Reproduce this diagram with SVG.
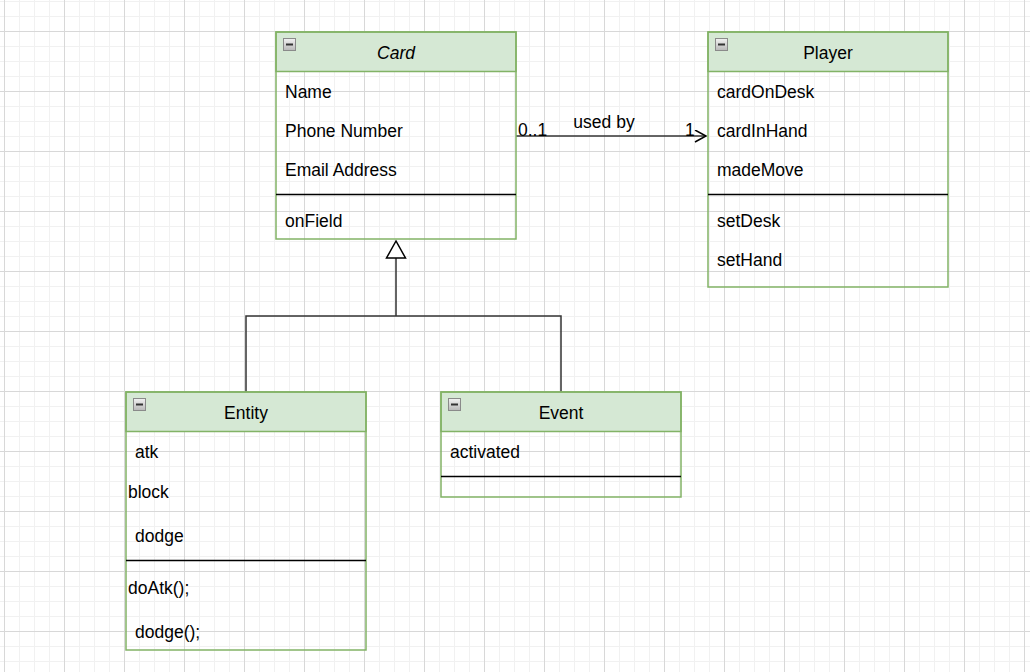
<svg xmlns="http://www.w3.org/2000/svg" width="1030" height="672" viewBox="0 0 1030 672">
<style>
.box{fill:none;stroke:#82b366;stroke-width:1.5}
.hdr{fill:#d5e8d4;stroke:#82b366;stroke-width:1.5}
.div{stroke:#000;stroke-width:1.5}
.t{font-family:"Liberation Sans",Arial,sans-serif;font-size:17.5px;fill:#000}
.c{text-anchor:middle}
.edge{fill:none;stroke:#333;stroke-width:1.5}
.ico{fill:url(#ig);stroke:#8a8a8a;stroke-width:1}
.mi{stroke:#333;stroke-width:2}
</style>
<defs>
<pattern id="grid" patternUnits="userSpaceOnUse" x="4" y="31" width="60" height="60">
<path d="M15.5 0V60M30.5 0V60M45.5 0V60M0 15.5H60M0 30.5H60M0 45.5H60" stroke="#f1f1f1" stroke-width="1"/>
<path d="M0.5 0V60M0 0.5H60" stroke="#d8d8d8" stroke-width="1"/>
</pattern>
<linearGradient id="ig" x1="0" y1="0" x2="0" y2="1">
<stop offset="0" stop-color="#f2f2f2"/>
<stop offset="1" stop-color="#b8b8b8"/>
</linearGradient>
<marker id="open" markerWidth="14" markerHeight="14" refX="12" refY="6" orient="auto" markerUnits="userSpaceOnUse">
<path d="M1 0L12 6L1 12" fill="none" stroke="#000" stroke-width="1.5"/>
</marker>
</defs>
<rect width="1030" height="672" fill="#fff"/>
<rect width="1030" height="672" fill="url(#grid)"/>

<g id="connectors">
<path class="edge" d="M516 136H706" stroke="#000" marker-end="url(#open)"/>
<text class="t" x="518" y="136">0..1</text>
<text class="t c" x="604" y="128">used by</text>
<text class="t" x="685" y="136">1</text>
<path class="edge" d="M246 392V316H561V392M396 316V258"/>
<path d="M396 241L386.5 258H405.5Z" fill="#fff" stroke="#000" stroke-width="1.5"/>
</g>

<g id="card">
<rect class="hdr" x="276" y="32" width="240" height="39.5"/>
<rect class="box" x="276" y="32" width="240" height="207"/>
<rect class="ico" x="283.5" y="38.5" width="12" height="12"/>
<path class="mi" d="M286 44.5H293"/>
<text class="t c" x="396" y="58.5" font-style="italic">Card</text>
<text class="t" x="285" y="97.5">Name</text>
<text class="t" x="285" y="136.5">Phone Number</text>
<text class="t" x="285" y="175.5">Email Address</text>
<path class="div" d="M276 194.5H516"/>
<text class="t" x="285" y="226.5">onField</text>
</g>

<g id="player">
<rect class="hdr" x="708" y="32" width="240" height="39.5"/>
<rect class="box" x="708" y="32" width="240" height="255"/>
<rect class="ico" x="715.5" y="38.5" width="12" height="12"/>
<path class="mi" d="M718 44.5H725"/>
<text class="t c" x="828" y="58.5">Player</text>
<text class="t" x="717" y="97.5">cardOnDesk</text>
<text class="t" x="717" y="136.5">cardInHand</text>
<text class="t" x="717" y="175.5">madeMove</text>
<path class="div" d="M708 194.5H948"/>
<text class="t" x="717" y="226.5">setDesk</text>
<text class="t" x="717" y="265.5">setHand</text>
</g>

<g id="entity">
<rect class="hdr" x="126" y="392" width="240" height="39.5"/>
<rect class="box" x="126" y="392" width="240" height="258"/>
<rect class="ico" x="133.5" y="398.5" width="12" height="12"/>
<path class="mi" d="M136 404.5H143"/>
<text class="t c" x="246" y="418.5">Entity</text>
<text class="t" x="135" y="457.5">atk</text>
<text class="t" x="128" y="497.5">block</text>
<text class="t" x="135" y="541.5">dodge</text>
<path class="div" d="M126 560.5H366"/>
<text class="t" x="128" y="594">doAtk();</text>
<text class="t" x="135" y="637.5">dodge();</text>
</g>

<g id="event">
<rect class="hdr" x="441" y="392" width="240" height="39.5"/>
<rect class="box" x="441" y="392" width="240" height="105"/>
<rect class="ico" x="448.5" y="398.5" width="12" height="12"/>
<path class="mi" d="M451 404.5H458"/>
<text class="t c" x="561" y="418.5">Event</text>
<text class="t" x="450" y="457.5">activated</text>
<path class="div" d="M441 476.5H681"/>
</g>
</svg>
